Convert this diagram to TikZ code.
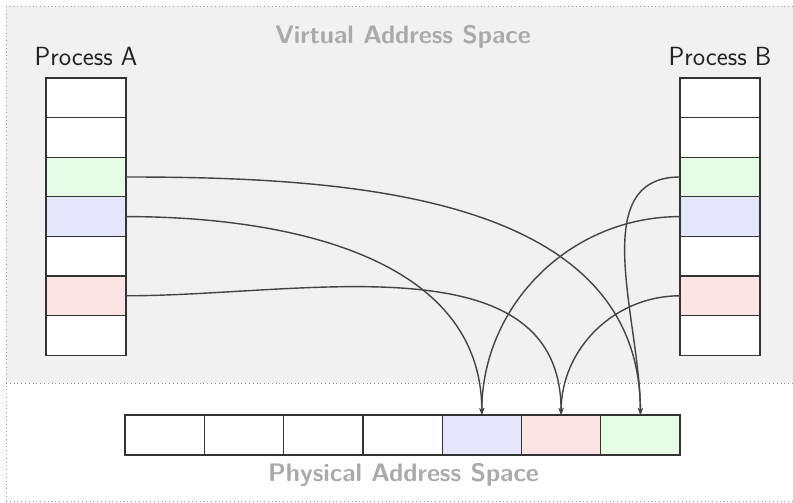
\documentclass[tikz,border=0pt]{standalone}
\usetikzlibrary{arrows.meta}
\definecolor{bgvirt}{HTML}{F1F1F1}
\definecolor{framegray}{HTML}{999999}
\definecolor{cellline}{HTML}{333333}
\definecolor{wireline}{HTML}{444444}
\definecolor{titlegray}{HTML}{AAAAAA}
\definecolor{labeltext}{HTML}{222222}
\definecolor{pgreen}{HTML}{E4FDE4}
\definecolor{pblue}{HTML}{E5E5FB}
\definecolor{ppink}{HTML}{FDE4E4}
\tikzset{
  cell/.style={draw=cellline, line width=0.9pt, fill=white, rectangle,
    minimum width=2cm, minimum height=0.99cm, inner sep=0pt, outer sep=0pt},
  pcell/.style={cell, minimum width=1.98cm, minimum height=1cm},
  frameline/.style={draw=framegray, dotted, line width=0.7pt},
  wire/.style={draw=wireline, line width=1pt, -{Stealth[length=5pt,width=3.6pt]}},
  proclabel/.style={font=\sffamily\fontsize{18.7}{22}\selectfont, text=labeltext, anchor=base, inner sep=0pt},
  arealabel/.style={font=\sffamily\bfseries\fontsize{18}{22}\selectfont, text=titlegray, anchor=base, inner sep=0pt}
}
\begin{document}
\begin{tikzpicture}[x=0.025cm, y=-0.025cm]
  \useasboundingbox (0,0) rectangle (793,503);

  % address-space regions
  \fill[bgvirt] (6,6) rectangle (810,383);
  \draw[frameline] (6,6) -- (810,6);
  \draw[frameline] (6,6) -- (6,501);
  \draw[frameline] (6,383) -- (810,383);
  \draw[frameline] (6,501) -- (810,501);

  \node[arealabel] (vtitle) at (403,43.5) {Virtual Address Space};
  \node[arealabel] (ptitle) at (403.5,481) {Physical Address Space};

  % page tables of the two processes
  \node[proclabel] (labA) at (86,66) {Process A};
  \node[proclabel] (labB) at (720,66) {Process B};

  \foreach \i/\c in {1/white,2/white,3/pgreen,4/pblue,5/white,6/ppink,7/white} {
    \node[cell, fill=\c] (A\i) at (86,{78+39.6*(\i-0.5)}) {};
    \node[cell, fill=\c] (B\i) at (720,{78+39.6*(\i-0.5)}) {};
  }

  % physical frames
  \foreach \i/\c in {1/white,2/white,3/white,4/white,5/pblue,6/ppink,7/pgreen} {
    \node[pcell, fill=\c] (P\i) at ({125+79.29*(\i-0.5)},435) {};
  }

  % mappings
  \draw[wire] (A3.east) to[out=0, in=90] (P7.north);
  \draw[wire] (A4.east) to[out=0, in=90] (P5.north);
  \draw[wire] (A6.east) to[out=0, in=90] (P6.north);
  \draw[wire] (B3.west) to[out=180, in=90] (P7.north);
  \draw[wire] (B4.west) to[out=180, in=90] (P5.north);
  \draw[wire] (B6.west) to[out=180, in=90] (P6.north);
\end{tikzpicture}
\end{document}
